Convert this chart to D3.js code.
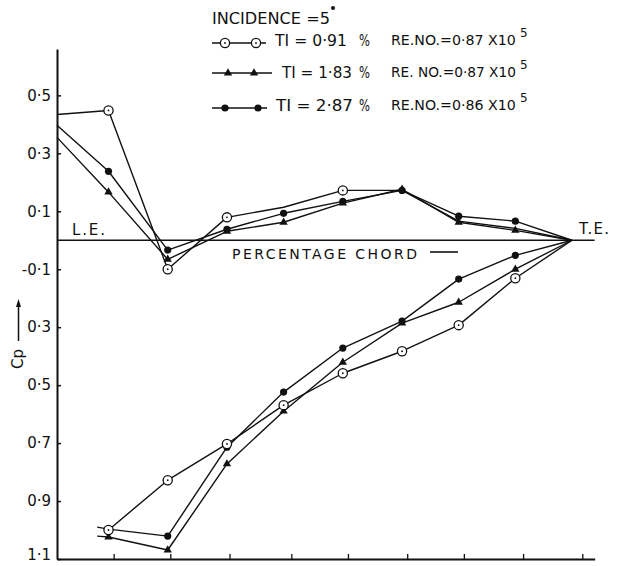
<!DOCTYPE html>
<html>
<head>
<meta charset="utf-8">
<script src="https://cdn.jsdelivr.net/npm/d3@7"></script>
<style>
  body { margin: 0; background: #fff; }
  svg { display: block; }
  text { font-family: "DejaVu Sans", sans-serif; fill: #111; }
</style>
</head>
<body>
<svg id="chart" width="617" height="566"></svg>
<script>
// Pressure tap stations, % chord (L.E. = 0, T.E. = 100)
const upperChord = [0, 10, 21.5, 33, 44, 55.5, 67, 78, 89, 100];
const lowerChord = [7.8, 10, 21.5, 33, 44, 55.5, 67, 78, 89, 100];

// Upper surface Cp
const upperTI091 = [0.434, 0.448, -0.100, 0.079, 0.114, 0.172, 0.172, 0.066, 0.041, 0];
const upperTI183 = [0.355, 0.166, -0.066, 0.031, 0.062, 0.128, 0.176, 0.062, 0.034, 0];
const upperTI287 = [0.397, 0.238, -0.034, 0.038, 0.093, 0.134, 0.172, 0.083, 0.066, 0];

// Lower surface Cp (first station is the lead-in stub)
const lowerTI091 = [null, -1.000, -0.828, -0.703, -0.569, -0.459, -0.383, -0.293, -0.131, 0];
const lowerTI183 = [-1.021, -1.024, -1.069, -0.772, -0.590, -0.421, -0.286, -0.214, -0.100, 0];
const lowerTI287 = [-0.990, -0.997, -1.021, -0.714, -0.524, -0.372, -0.279, -0.134, -0.052, 0];

// Stations that carry a plotted symbol
const markedDefault = [1, 2, 3, 4, 5, 6, 7, 8];
const markedUpperTI091 = [1, 2, 3, 5];

// Axis ticks and labels
const yTicks = [0.5, 0.3, 0.1, -0.1, -0.3, -0.5, -0.7, -0.9, -1.1];
const yTickLabels = ["0·5", "0·3", "0·1", "-0·1", "0·3", "0·5", "0·7", "0·9", "1·1"];
const xTicks = [11, 22, 33.5, 45.5, 56.5, 68, 79, 90.5, 102];

// Legend
const legendTI = ["TI = 0·91", "TI = 1·83", "TI = 2·87"];
const legendRe = ["RE.NO.=0·87 X10", "RE. NO.=0·87 X10", "RE.NO.=0·86 X10"];
const legendSymbols = ["open", "triangle", "filled"];

const svg = d3.select("#chart");
const ink = "#111";

const x = d3.scaleLinear().domain([0, 100]).range([57, 572]);
const y = d3.scaleLinear().domain([-1.1, 0.66]).range([559, 49]);
const xEnd = 104.4;

// Axes
const yAxis = d3.axisLeft(y)
  .tickValues(yTicks)
  .tickSize(-4)
  .tickSizeOuter(0)
  .tickPadding(6)
  .tickFormat((d, i) => yTickLabels[i]);
const gy = svg.append("g").attr("transform", `translate(${x(0)},0)`).call(yAxis);
gy.select(".domain").attr("stroke", ink).attr("stroke-width", 2);
gy.selectAll(".tick line").attr("stroke", ink).attr("stroke-width", 1.5);
gy.selectAll(".tick text")
  .attr("font-size", 15).attr("font-family", "DejaVu Sans").attr("fill", ink)
  .attr("dy", d => (d === -1.1 ? "0.05em" : "0.32em"));

const xAxisScale = d3.scaleLinear().domain([0, xEnd]).range([x(0), x(xEnd)]);
const xAxis = d3.axisBottom(xAxisScale)
  .tickValues(xTicks)
  .tickSize(-5)
  .tickSizeOuter(0)
  .tickFormat("");
const gx = svg.append("g").attr("transform", `translate(0,${y(-1.1)})`).call(xAxis);
gx.select(".domain").attr("stroke", ink).attr("stroke-width", 2);
gx.selectAll(".tick line").attr("stroke", ink).attr("stroke-width", 1.3);

// Chord line (Cp = 0)
svg.append("line")
  .attr("x1", x(0)).attr("x2", x(xEnd))
  .attr("y1", y(0)).attr("y2", y(0))
  .attr("stroke", ink).attr("stroke-width", 1.6);

// Annotations
svg.append("text").attr("x", 72).attr("y", 235).attr("font-size", 15)
  .attr("textLength", 33).attr("lengthAdjust", "spacing").text("L.E.");
svg.append("text").attr("x", 579).attr("y", 234).attr("font-size", 15)
  .attr("textLength", 30).attr("lengthAdjust", "spacing").text("T.E.");
svg.append("text").attr("x", 232).attr("y", 259).attr("font-size", 14)
  .attr("textLength", 185).attr("lengthAdjust", "spacing").text("PERCENTAGE CHORD");
svg.append("line").attr("x1", 430).attr("x2", 458).attr("y1", 252).attr("y2", 252)
  .attr("stroke", ink).attr("stroke-width", 1.6);

// Cp label with arrow
svg.append("text")
  .attr("transform", "translate(23,369) rotate(-90)")
  .attr("font-size", 15)
  .text("Cp");
svg.append("line").attr("x1", 18.5).attr("x2", 18.5).attr("y1", 341).attr("y2", 303)
  .attr("stroke", ink).attr("stroke-width", 1.5);
svg.append("path").attr("d", "M18.5,299 L16,307 L21,307 Z").attr("fill", ink);

// Series
const series = [
  { key: "open", chord: upperChord, values: upperTI091, marked: markedUpperTI091 },
  { key: "triangle", chord: upperChord, values: upperTI183, marked: markedDefault },
  { key: "filled", chord: upperChord, values: upperTI287, marked: markedDefault },
  { key: "open", chord: lowerChord, values: lowerTI091, marked: markedDefault },
  { key: "triangle", chord: lowerChord, values: lowerTI183, marked: markedDefault },
  { key: "filled", chord: lowerChord, values: lowerTI287, marked: markedDefault }
];

const line = d3.line()
  .defined(d => d.v != null)
  .x(d => x(d.c))
  .y(d => y(d.v));

const gLines = svg.append("g");
const gMarks = svg.append("g");

function drawMarker(g, kind, cx, cy) {
  if (kind === "open") {
    g.append("circle").attr("cx", cx).attr("cy", cy).attr("r", 4.6)
      .attr("fill", "#fff").attr("stroke", ink).attr("stroke-width", 1.3);
    g.append("circle").attr("cx", cx).attr("cy", cy).attr("r", 0.9).attr("fill", ink);
  } else if (kind === "filled") {
    g.append("circle").attr("cx", cx).attr("cy", cy).attr("r", 3.6).attr("fill", ink);
  } else {
    g.append("path")
      .attr("d", d3.symbol(d3.symbolTriangle, 30)())
      .attr("transform", `translate(${cx},${cy})`)
      .attr("fill", ink);
  }
}

const drawOrder = ["filled", "triangle", "open"];
series.forEach(s => {
  const pts = s.chord.map((c, i) => ({ c, v: s.values[i] }));
  gLines.append("path").attr("d", line(pts))
    .attr("fill", "none").attr("stroke", ink).attr("stroke-width", 1.4)
    .attr("stroke-linejoin", "round");
});
drawOrder.forEach(kind => {
  series.filter(s => s.key === kind).forEach(s => {
    s.marked.forEach(i => {
      if (s.values[i] != null) drawMarker(gMarks, kind, x(s.chord[i]), y(s.values[i]));
    });
  });
});

// Legend
const lg = svg.append("g");
lg.append("text").attr("x", 212).attr("y", 24).attr("font-size", 16)
  .attr("textLength", 118).attr("lengthAdjust", "spacingAndGlyphs").text("INCIDENCE =5");
lg.append("circle").attr("cx", 333).attr("cy", 8).attr("r", 2).attr("fill", ink);

const rowLineY = [43, 73, 108];
const rowTIBase = [46, 78, 111];
const rowReBase = [45, 77, 110];
const rowLineEnd = [266, 272, 267];
const rowMarkX = [[225, 256], [228, 254], [225, 258]];
const rowTIStart = [275, 282, 276];
const rowTIEnd = [347, 352, 353];
const reStart = 391, reWidth = 125;

legendSymbols.forEach((kind, i) => {
  lg.append("line").attr("x1", 212).attr("x2", rowLineEnd[i])
    .attr("y1", rowLineY[i]).attr("y2", rowLineY[i])
    .attr("stroke", ink).attr("stroke-width", 1.4);
  rowMarkX[i].forEach(mx => drawMarker(lg, kind, mx, rowLineY[i]));
  lg.append("text").attr("x", rowTIStart[i]).attr("y", rowTIBase[i]).attr("font-size", 16)
    .attr("textLength", rowTIEnd[i] - rowTIStart[i]).attr("lengthAdjust", "spacingAndGlyphs")
    .text(legendTI[i]);
  lg.append("text").attr("x", 359).attr("y", rowTIBase[i] - 0.5).attr("font-size", 15)
    .attr("textLength", 11).attr("lengthAdjust", "spacingAndGlyphs").text("%");
  // Reynolds number, sized to a common width, exponent raised after "X10"
  const re = lg.append("text").attr("x", reStart).attr("y", rowReBase[i])
    .attr("font-size", 14).text(legendRe[i]);
  const w = re.node().getComputedTextLength();
  re.attr("font-size", 14 * reWidth / w);
  lg.append("text").attr("x", reStart + reWidth + 4).attr("y", rowReBase[i] - 8)
    .attr("font-size", 12).text("5");
});
</script>
</body>
</html>
